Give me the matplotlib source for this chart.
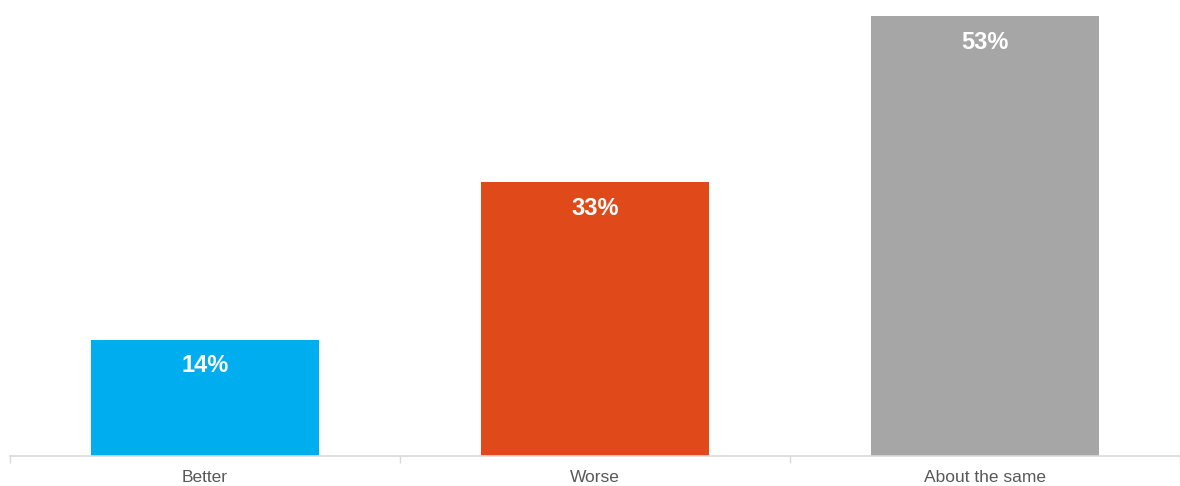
import matplotlib.pyplot as plt

categories = ["Better", "Worse", "About the same"]
values = [14, 33, 53]
colors = ["#00AEEF", "#E04A1A", "#A6A6A6"]

plt.rcParams['font.family'] = ['Liberation Sans', 'DejaVu Sans']

fig = plt.figure(figsize=(11.8, 4.86), dpi=100)
ax = fig.add_axes([10 / 1180, 30 / 486, 1 - 10 / 1180, 456 / 486])

x = range(len(categories))
ax.bar(x, values, width=0.586, color=colors, zorder=2)

# value labels inside the top of each bar
for i, v in enumerate(values):
    ax.annotate(f"{v}%", (i, v), xytext=(0, -26), textcoords="offset pixels",
                ha="center", va="center", color="white", fontsize=17, fontweight="bold")

ax.set_xlim(-0.5, 2.4627)
ax.set_ylim(0, 456 / 8.3)

for s in ["top", "right", "left"]:
    ax.spines[s].set_visible(False)
ax.spines["bottom"].set_color("#D9D9D9")
ax.spines["bottom"].set_linewidth(1.2)
ax.set_yticks([])

ax.set_xticks(list(x))
ax.set_xticklabels(categories, fontsize=12.5, color="#595959")
ax.tick_params(axis="x", which="major", length=0, pad=10)
ax.set_xticks([-0.5, 0.5, 1.5, 2.5], minor=True)
ax.tick_params(axis="x", which="minor", length=5, color="#D9D9D9", width=1)

fig.savefig("out.png", dpi=100)
